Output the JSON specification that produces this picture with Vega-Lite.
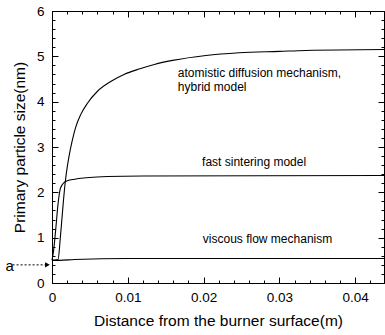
{
  "$schema": "https://vega.github.io/schema/vega-lite/v6.json",
  "autosize": "none",
  "width": 332,
  "height": 272,
  "padding": {"left": 52, "top": 11, "right": 1, "bottom": 52},
  "background": "white",
  "config": {
    "view": {"stroke": "black", "strokeWidth": 1},
    "font": "Liberation Sans",
    "axis": {
      "grid": false,
      "domainColor": "black",
      "tickColor": "black",
      "tickWidth": 1,
      "labelColor": "black",
      "titleColor": "black",
      "labelFont": "Liberation Sans",
      "titleFont": "Liberation Sans",
      "labelFontSize": 13.5,
      "titleFontSize": 15.5,
      "titleFontWeight": "normal"
    }
  },
  "datasets": {
    "curves": [
      {"s": "atomistic", "x": 0, "y": 0.5},
      {"s": "atomistic", "x": 0.0008, "y": 0.52},
      {"s": "atomistic", "x": 0.0011, "y": 1.0},
      {"s": "atomistic", "x": 0.0014, "y": 1.6},
      {"s": "atomistic", "x": 0.0017, "y": 2.15},
      {"s": "atomistic", "x": 0.0019, "y": 2.43},
      {"s": "atomistic", "x": 0.00225, "y": 2.8},
      {"s": "atomistic", "x": 0.0027, "y": 3.16},
      {"s": "atomistic", "x": 0.0031, "y": 3.42},
      {"s": "atomistic", "x": 0.0038, "y": 3.72},
      {"s": "atomistic", "x": 0.0047, "y": 3.97},
      {"s": "atomistic", "x": 0.006, "y": 4.23},
      {"s": "atomistic", "x": 0.0078, "y": 4.45},
      {"s": "atomistic", "x": 0.0095, "y": 4.6},
      {"s": "atomistic", "x": 0.0115, "y": 4.72},
      {"s": "atomistic", "x": 0.0135, "y": 4.82},
      {"s": "atomistic", "x": 0.0159, "y": 4.91},
      {"s": "atomistic", "x": 0.0203, "y": 5.02},
      {"s": "atomistic", "x": 0.0247, "y": 5.08},
      {"s": "atomistic", "x": 0.03, "y": 5.11},
      {"s": "atomistic", "x": 0.0335, "y": 5.13},
      {"s": "atomistic", "x": 0.0438, "y": 5.15},
      {"s": "fast", "x": 0, "y": 0.5},
      {"s": "fast", "x": 0.0002, "y": 0.7},
      {"s": "fast", "x": 0.0005, "y": 1.2},
      {"s": "fast", "x": 0.0008, "y": 1.75},
      {"s": "fast", "x": 0.0011, "y": 2.08},
      {"s": "fast", "x": 0.0015, "y": 2.2},
      {"s": "fast", "x": 0.0018, "y": 2.24},
      {"s": "fast", "x": 0.003, "y": 2.29},
      {"s": "fast", "x": 0.0045, "y": 2.32},
      {"s": "fast", "x": 0.0073, "y": 2.35},
      {"s": "fast", "x": 0.012, "y": 2.36},
      {"s": "fast", "x": 0.0438, "y": 2.37},
      {"s": "viscous", "x": 0, "y": 0.5},
      {"s": "viscous", "x": 0.001, "y": 0.5},
      {"s": "viscous", "x": 0.003, "y": 0.52},
      {"s": "viscous", "x": 0.01, "y": 0.54},
      {"s": "viscous", "x": 0.02, "y": 0.54},
      {"s": "viscous", "x": 0.0438, "y": 0.54}
    ],
    "notes": [
      {"x": 0.0166, "y": 4.64, "label": "atomistic diffusion mechanism,"},
      {"x": 0.0166, "y": 4.33, "label": "hybrid model"},
      {"x": 0.0198, "y": 2.66, "label": "fast sintering model"},
      {"x": 0.0199, "y": 0.98, "label": "viscous flow mechanism"}
    ],
    "arrow": [
      {"x": -0.0052, "x2": -0.0006, "y": 0.4, "label": "a"}
    ]
  },
  "resolve": {"axis": {"x": "independent", "y": "independent"}},
  "layer": [
    {
      "data": {"name": "curves"},
      "mark": {"type": "line", "color": "black", "strokeWidth": 1.1, "interpolate": "monotone"},
      "encoding": {
        "detail": {"field": "s"},
        "x": {
          "field": "x", "type": "quantitative",
          "scale": {"domain": [0, 0.0438], "nice": false, "zero": false},
          "axis": {
            "orient": "bottom",
            "title": "Distance from the burner surface(m)",
            "values": [0, 0.002, 0.004, 0.006, 0.008, 0.01, 0.012, 0.014, 0.016, 0.018, 0.02, 0.022, 0.024, 0.026, 0.028, 0.03, 0.032, 0.034, 0.036, 0.038, 0.04, 0.042],
            "labelExpr": "abs(datum.value*100 - round(datum.value*100)) < 0.01 ? format(datum.value, '.2~f') : ''",
            "tickSize": -3,
            "labelPadding": 10,
            "titlePadding": 10,
            "labelFlush": false
          }
        },
        "y": {
          "field": "y", "type": "quantitative",
          "scale": {"domain": [0, 6], "nice": false, "zero": false},
          "axis": {
            "orient": "left",
            "title": "Primary particle size(nm)",
            "values": [0, 0.2, 0.4, 0.6, 0.8, 1, 1.2, 1.4, 1.6, 1.8, 2, 2.2, 2.4, 2.6, 2.8, 3, 3.2, 3.4, 3.6, 3.8, 4, 4.2, 4.4, 4.6, 4.8, 5, 5.2, 5.4, 5.6, 5.8, 6],
            "labelExpr": "abs(datum.value - round(datum.value)) < 0.01 ? format(datum.value, 'd') : ''",
            "tickSize": -3,
            "labelPadding": 11,
            "titlePadding": 9,
            "labelFlush": false
          }
        }
      }
    },
    {
      "data": {"name": "notes"},
      "mark": {"type": "text", "align": "left", "baseline": "middle", "fontSize": 12, "color": "black", "font": "Liberation Sans"},
      "encoding": {
        "text": {"field": "label"},
        "x": {
          "field": "x", "type": "quantitative",
          "axis": {
            "orient": "top", "title": null, "labels": false, "domain": false,
            "values": [0, 0.002, 0.004, 0.006, 0.008, 0.01, 0.012, 0.014, 0.016, 0.018, 0.02, 0.022, 0.024, 0.026, 0.028, 0.03, 0.032, 0.034, 0.036, 0.038, 0.04, 0.042],
            "tickSize": -3
          }
        },
        "y": {
          "field": "y", "type": "quantitative",
          "axis": {
            "orient": "right", "title": null, "labels": false, "domain": false,
            "values": [0, 0.2, 0.4, 0.6, 0.8, 1, 1.2, 1.4, 1.6, 1.8, 2, 2.2, 2.4, 2.6, 2.8, 3, 3.2, 3.4, 3.6, 3.8, 4, 4.2, 4.4, 4.6, 4.8, 5, 5.2, 5.4, 5.6, 5.8, 6],
            "tickSize": -3
          }
        }
      }
    },
    {
      "data": {"name": "arrow"},
      "mark": {"type": "rule", "color": "black", "strokeWidth": 1, "strokeDash": [2, 2]},
      "encoding": {
        "x": {
          "field": "x", "type": "quantitative",
          "axis": {"orient": "bottom", "title": null, "labels": false, "domain": false, "values": [0, 0.01, 0.02, 0.03, 0.04], "tickSize": -6}
        },
        "x2": {"field": "x2"},
        "y": {
          "field": "y", "type": "quantitative",
          "axis": {"orient": "left", "title": null, "labels": false, "domain": false, "values": [0, 1, 2, 3, 4, 5, 6], "tickSize": -6}
        }
      }
    },
    {
      "data": {"name": "arrow"},
      "mark": {"type": "point", "shape": "triangle-right", "filled": true, "color": "black", "size": 30, "opacity": 1},
      "encoding": {
        "x": {
          "field": "x2", "type": "quantitative",
          "axis": {"orient": "top", "title": null, "labels": false, "domain": false, "values": [0, 0.01, 0.02, 0.03, 0.04], "tickSize": -6}
        },
        "y": {
          "field": "y", "type": "quantitative",
          "axis": {"orient": "right", "title": null, "labels": false, "domain": false, "values": [0, 1, 2, 3, 4, 5, 6], "tickSize": -6}
        }
      }
    },
    {
      "data": {"name": "arrow"},
      "mark": {"type": "text", "align": "center", "baseline": "middle", "fontSize": 15, "color": "black", "dx": -3, "dy": 1, "font": "Liberation Sans"},
      "encoding": {
        "text": {"field": "label"},
        "x": {"field": "x", "type": "quantitative", "axis": null},
        "y": {"field": "y", "type": "quantitative", "axis": null}
      }
    }
  ]
}
